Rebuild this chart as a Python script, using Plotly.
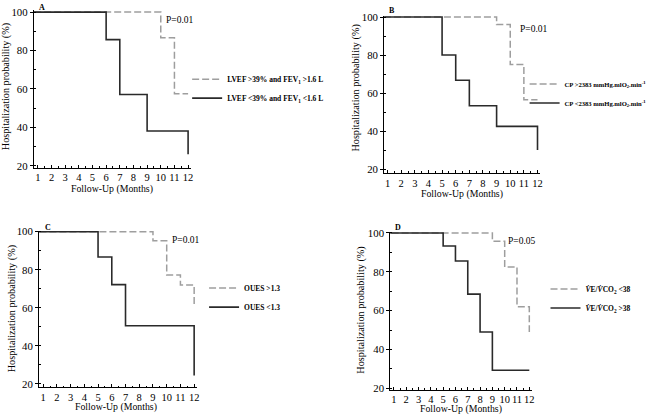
import plotly.graph_objects as go

W, H = 659, 419

# Kaplan-Meier style steps (month, %)
a_hi_x = [0, 10, 11, 12]
a_hi_y = [100, 86.7, 57.5, 57.5]
a_lo_x = [0, 6, 7, 9, 12, 12]
a_lo_y = [100, 85.7, 57.1, 38.1, 38.1, 26]

b_hi_x = [0, 9, 10, 11, 12]
b_hi_y = [100, 96, 75, 56.5, 56.5]
b_lo_x = [0, 5, 6, 7, 9, 12, 12]
b_lo_y = [100, 80, 66.7, 53.3, 42.5, 42.5, 30]

c_hi_x = [0, 9, 10, 11, 12, 12]
c_hi_y = [100, 95.3, 77.3, 72, 72, 61.3]
c_lo_x = [0, 5, 6, 7, 12, 12]
c_lo_y = [100, 86.7, 72.2, 50.6, 50.6, 24.4]

d_hi_x = [0, 9, 10, 11, 12, 12]
d_hi_y = [100, 95.8, 82.5, 62, 62, 49]
d_lo_x = [0, 5, 6, 7, 8, 9, 12]
d_lo_y = [100, 93.3, 85.6, 68.5, 49, 29.3, 29.3]

names = {
    'A': ['LVEF &gt;39% and FEV<sub>1</sub> &gt;1.6 L', 'LVEF &lt;39% and FEV<sub>1</sub> &lt;1.6 L'],
    'B': ['CP &gt;2383 mmHg.mlO<sub>2</sub>.min<sup>-1</sup>', 'CP &lt;2383 mmHg.mlO<sub>2</sub>.min<sup>-1</sup>'],
    'C': ['OUES &gt;1.3', 'OUES &lt;1.3'],
    'D': ['<i>V̇</i>E/<i>V̇</i>CO<sub>2</sub> &lt;38', '<i>V̇</i>E/<i>V̇</i>CO<sub>2</sub> &gt;38'],
}
pvals = {'A': 'P=0.01', 'B': 'P=0.01', 'C': 'P=0.01', 'D': 'P=0.05'}

FONT = 'Times New Roman, Liberation Serif, DejaVu Serif, serif'


def px(x):
    return x / W


def py(y):
    return 1 - y / H


# pixel layout of each panel: x domain, y domain, x range, y range
panels = {
    'A': dict(xd=(33.9, 191.7), yd=(166.3, 5.3), xr=(0.7, 12.2), yr=(19, 101),
              leg=(188, 85.5), legsize=7.5, letter=(37, 3), p=(181, 15), xt=(113, 188), yt=(6, 83)),
    'B': dict(xd=(385.9, 542.7), yd=(171.6, 11.3), xr=(0.75, 12.2), yr=(18, 100.5),
              leg=(527, 90.5), legsize=6.6, letter=(389, 6), p=(536, 25), xt=(464, 193), yt=(358, 85)),
    'C': dict(xd=(39.2, 197.8), yd=(390.6, 230.7), xr=(0.7, 12.2), yr=(18.3, 100.5),
              leg=(205, 299), legsize=7.5, letter=(43, 227), p=(187, 240), xt=(117, 411), yt=(12, 310)),
    'D': dict(xd=(392.0, 534.2), yd=(393.1, 232), xr=(0.7, 12.2), yr=(19.3, 100.5),
              leg=(548, 300), legsize=7.5, letter=(395, 227), p=(524, 241), xt=(463, 413), yt=(363, 312)),
}

data = {
    'A': (a_hi_x, a_hi_y, a_lo_x, a_lo_y),
    'B': (b_hi_x, b_hi_y, b_lo_x, b_lo_y),
    'C': (c_hi_x, c_hi_y, c_lo_x, c_lo_y),
    'D': (d_hi_x, d_hi_y, d_lo_x, d_lo_y),
}

fig = go.Figure()
layout = {}
annotations = []


def note(pos, text, size, **kw):
    return dict(x=px(pos[0]), y=py(pos[1]), xref='paper', yref='paper', text=text,
                showarrow=False, xanchor=kw.pop('xanchor', 'center'), yanchor='middle',
                font=dict(family=FONT, size=size, color='black'), **kw)


for i, key in enumerate(['A', 'B', 'C', 'D']):
    p = panels[key]
    sfx = '' if i == 0 else str(i + 1)
    leg = 'legend' + sfx
    hx, hy, lx, ly = data[key]

    fig.add_trace(go.Scatter(
        x=hx, y=hy, name=names[key][0], mode='lines', line_shape='hv',
        line=dict(color='#9e9e9e', width=1.5, dash='7px,3px'),
        xaxis='x' + sfx, yaxis='y' + sfx, legend=leg
    ))
    fig.add_trace(go.Scatter(
        x=lx, y=ly, name=names[key][1], mode='lines', line_shape='hv',
        line=dict(color='#2a2a2a', width=1.6),
        xaxis='x' + sfx, yaxis='y' + sfx, legend=leg
    ))

    layout['xaxis' + sfx] = dict(
        domain=[px(p['xd'][0]), px(p['xd'][1])], range=list(p['xr']),
        anchor='y' + sfx, tickvals=list(range(1, 13)), tickangle=0,
        showline=True, linecolor='black', linewidth=1, showgrid=False, zeroline=False,
        ticks='inside', ticklen=3, tickcolor='black',
        minor=dict(ticks='inside', ticklen=1.5, dtick=0.5, tickcolor='black', showgrid=False),
        tickfont=dict(family=FONT, size=10.5, color='black'),
    )
    layout['yaxis' + sfx] = dict(
        domain=[py(p['yd'][0]), py(p['yd'][1])], range=list(p['yr']),
        anchor='x' + sfx, tickvals=[20, 40, 60, 80, 100],
        showline=True, linecolor='black', linewidth=1, showgrid=False, zeroline=False,
        ticks='outside', ticklen=3, tickcolor='black',
        minor=dict(ticks='inside', ticklen=2, dtick=10, tickcolor='black', showgrid=False),
        tickfont=dict(family=FONT, size=10.8, color='black'),
    )
    layout[leg] = dict(
        x=px(p['leg'][0]), y=py(p['leg'][1]), xanchor='left', yanchor='middle',
        bgcolor='rgba(0,0,0,0)', borderwidth=0, itemwidth=30,
        font=dict(family=FONT, size=p['legsize'], color='black', weight='bold'),
    )

    annotations.append(note(p['letter'], '<b>' + key + '</b>', 8, xanchor='left'))
    annotations.append(note(p['p'], pvals[key], 9.5))
    annotations.append(note(p['xt'], 'Follow-Up (Months)', 9.8))
    annotations.append(note(p['yt'], 'Hospitalization probability (%)', 10.2, textangle=-90))

fig.update_layout(
    width=W, height=H,
    margin=dict(l=0, r=0, t=0, b=0),
    paper_bgcolor='white', plot_bgcolor='white',
    showlegend=True,
    annotations=annotations,
    **layout
)

fig.write_html('out.html', config={'displayModeBar': False},
               post_script="document.body.style.margin='0';")
